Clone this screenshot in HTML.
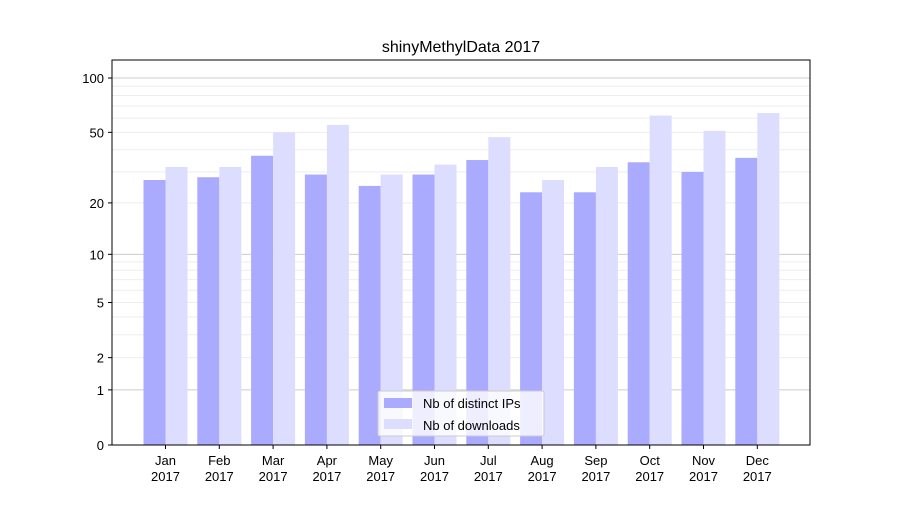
<!DOCTYPE html>
<html><head><meta charset="utf-8"><style>
body{margin:0;background:#fff;}
svg text{font-family:"Liberation Sans","DejaVu Sans",sans-serif;fill:#000;}
</style></head><body>
<svg id="chart" width="900" height="500" xmlns="http://www.w3.org/2000/svg">
<rect width="900" height="500" fill="#fff"/>
<text x="461" y="52" font-size="16" text-anchor="middle">shinyMethylData 2017</text>
<g id="grid"></g>
<g id="bars"></g>
<g id="axes"></g>
<g id="legend">
<rect x="378" y="391" width="166" height="45" fill="#fff" fill-opacity="0.8" stroke="#ccc" rx="2"/>
<rect x="384" y="398" width="28" height="10" fill="#aaaaff"/>
<text x="423" y="408" font-size="13">Nb of distinct IPs</text>
<rect x="384" y="419" width="28" height="10" fill="#ddddff"/>
<text x="423" y="430" font-size="13">Nb of downloads</text>
</g>
</svg>
<script>
const months=["Jan","Feb","Mar","Apr","May","Jun","Jul","Aug","Sep","Oct","Nov","Dec"];
const ips=[27,28,37,29,25,29,35,23,23,34,30,36];
const downloads=[32,32,50,55,29,33,47,27,32,62,51,64];
const yTicks=[0,1,2,5,10,20,50,100];
const NS="http://www.w3.org/2000/svg";
const L=112,R=810,T=60,B=445;
function y(v){return B-183.1*Math.log10(1+v);}
function xc(i){return 165.5+i*53.8;}
function mk(tag,attrs,parent){const e=document.createElementNS(NS,tag);for(const k in attrs)e.setAttribute(k,attrs[k]);parent.appendChild(e);return e;}
const grid=document.getElementById('grid'),bars=document.getElementById('bars'),axes=document.getElementById('axes');
// grid lines
[2,3,4,5,6,7,8,9,20,30,40,50,60,70,80,90].forEach(v=>{
 const g=mk('line',{x1:L,x2:R,y1:y(v),y2:y(v),stroke:'#eeeeee','stroke-width':1},grid);
 
 
});
[1,10,100].forEach(v=>{
 const g=mk('line',{x1:L,x2:R,y1:y(v),y2:y(v),stroke:'#cccccc','stroke-width':1},grid);
 
 
});
months.forEach((m,i)=>{
 const a=mk('rect',{x:xc(i)-22,y:y(ips[i]),width:22,height:B-y(ips[i]),fill:'#aaaaff'},bars);
 
 
 const b=mk('rect',{x:xc(i),y:y(downloads[i]),width:22,height:B-y(downloads[i]),fill:'#ddddff'},bars);
 
 
 mk('line',{x1:xc(i),x2:xc(i),y1:B,y2:B+4,stroke:'#000'},axes);
 const t=mk('text',{x:xc(i),y:B+20,'font-size':13,'text-anchor':'middle'},axes);
 t.textContent=m;
 
 
 const t2=mk('text',{x:xc(i),y:B+36,'font-size':13,'text-anchor':'middle'},axes);
 t2.textContent='2017';
 
 
});
yTicks.forEach(v=>{
 mk('line',{x1:L-4,x2:L,y1:y(v),y2:y(v),stroke:'#000'},axes);
 const t=mk('text',{x:L-8,y:y(v)+5,'font-size':13,'text-anchor':'end'},axes);
 t.textContent=v;
 
 
});
const frame=mk('rect',{x:L,y:T,width:R-L,height:B-T,fill:'none',stroke:'#000','stroke-width':1},axes);


</script>
</body></html>
